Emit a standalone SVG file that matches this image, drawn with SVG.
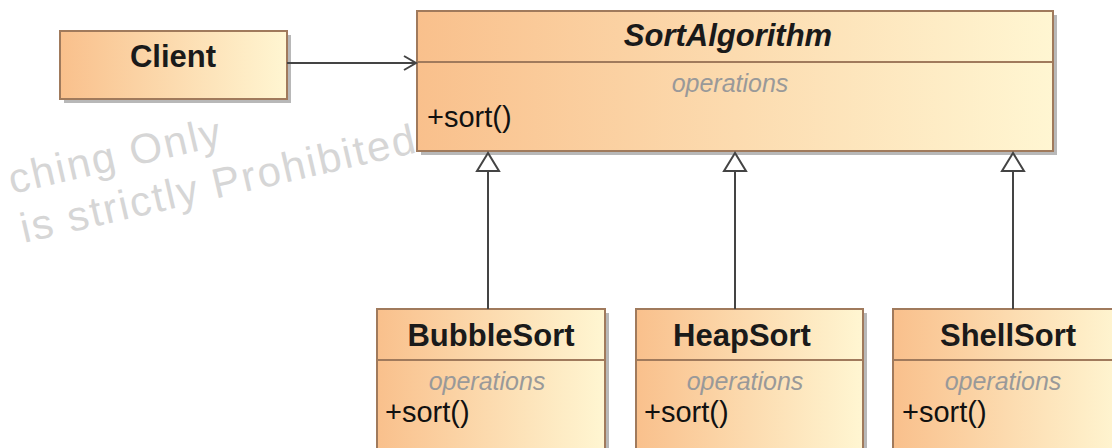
<svg xmlns="http://www.w3.org/2000/svg" width="1112" height="448" viewBox="0 0 1112 448">
<style>
.box{fill:url(#g);stroke:#a07a5c;stroke-width:2}
.sh{fill:#9a9a9a;opacity:.7}
.div{stroke:#a07a5c;stroke-width:2}
.title{font-family:"Liberation Sans",Arial,sans-serif;font-weight:bold;font-size:31px;fill:#1a1a1a;text-anchor:middle}
.ops{font-family:"Liberation Sans",Arial,sans-serif;font-style:italic;font-size:25px;fill:#999;text-anchor:middle}
.op{font-family:"Liberation Sans",Arial,sans-serif;font-size:29px;fill:#111}
.wm{font-family:"Liberation Sans",Arial,sans-serif;font-size:42px;fill:#d6d6d6;letter-spacing:2px}
.conn{stroke:#444;stroke-width:2;fill:none}
.tri{fill:#fff;stroke:#444;stroke-width:2}
</style>
<defs>
<linearGradient id="g" x1="0" y1="0" x2="1" y2="0">
<stop offset="0" stop-color="#f9c08c"/>
<stop offset="1" stop-color="#fff6d2"/>
</linearGradient>
</defs>
<rect width="1112" height="448" fill="#fff"/>
<g id="watermark">
<text class="wm" transform="translate(12,194) rotate(-13)">ching Only</text>
<text class="wm" transform="translate(24,243) rotate(-13)">is strictly Prohibited</text>
</g>
<g id="Client">
<rect class="sh" x="64" y="35" width="227" height="68"/>
<rect class="box" x="60" y="31" width="227" height="68"/>
<text class="title" x="173" y="67">Client</text>
</g>
<g id="SortAlgorithm">
<rect class="sh" x="421" y="15" width="636" height="140"/>
<rect class="box" x="417" y="11" width="636" height="140"/>
<line class="div" x1="417" y1="62" x2="1053" y2="62"/>
<text class="title" x="728" y="46" font-style="italic">SortAlgorithm</text>
<text class="ops" x="730" y="92">operations</text>
<text class="op" x="427" y="127">+sort()</text>
</g>
<g id="BubbleSort">
<rect class="sh" x="381" y="313" width="228" height="160"/>
<rect class="box" x="377" y="309" width="228" height="160"/>
<line class="div" x1="377" y1="360" x2="605" y2="360"/>
<text class="title" x="491" y="346">BubbleSort</text>
<text class="ops" x="487" y="390">operations</text>
<text class="op" x="385" y="422">+sort()</text>
</g>
<g id="HeapSort">
<rect class="sh" x="640" y="313" width="227" height="160"/>
<rect class="box" x="636" y="309" width="227" height="160"/>
<line class="div" x1="636" y1="360" x2="863" y2="360"/>
<text class="title" x="742" y="346">HeapSort</text>
<text class="ops" x="745" y="390">operations</text>
<text class="op" x="644" y="422">+sort()</text>
</g>
<g id="ShellSort">
<rect class="sh" x="897" y="313" width="230" height="160"/>
<rect class="box" x="893" y="309" width="230" height="160"/>
<line class="div" x1="893" y1="360" x2="1123" y2="360"/>
<text class="title" x="1008" y="346">ShellSort</text>
<text class="ops" x="1003" y="390">operations</text>
<text class="op" x="902" y="422">+sort()</text>
</g>
<g id="connectors">
<line class="conn" x1="287" y1="63" x2="416" y2="63"/>
<polyline class="conn" points="404,56 416,63 404,70"/>
<line class="conn" x1="488" y1="171" x2="488" y2="309"/>
<polygon class="tri" points="488,153 477,171 499,171"/>
<line class="conn" x1="735" y1="171" x2="735" y2="309"/>
<polygon class="tri" points="735,153 724,171 746,171"/>
<line class="conn" x1="1013" y1="171" x2="1013" y2="309"/>
<polygon class="tri" points="1013,153 1002,171 1024,171"/>
</g>
</svg>
